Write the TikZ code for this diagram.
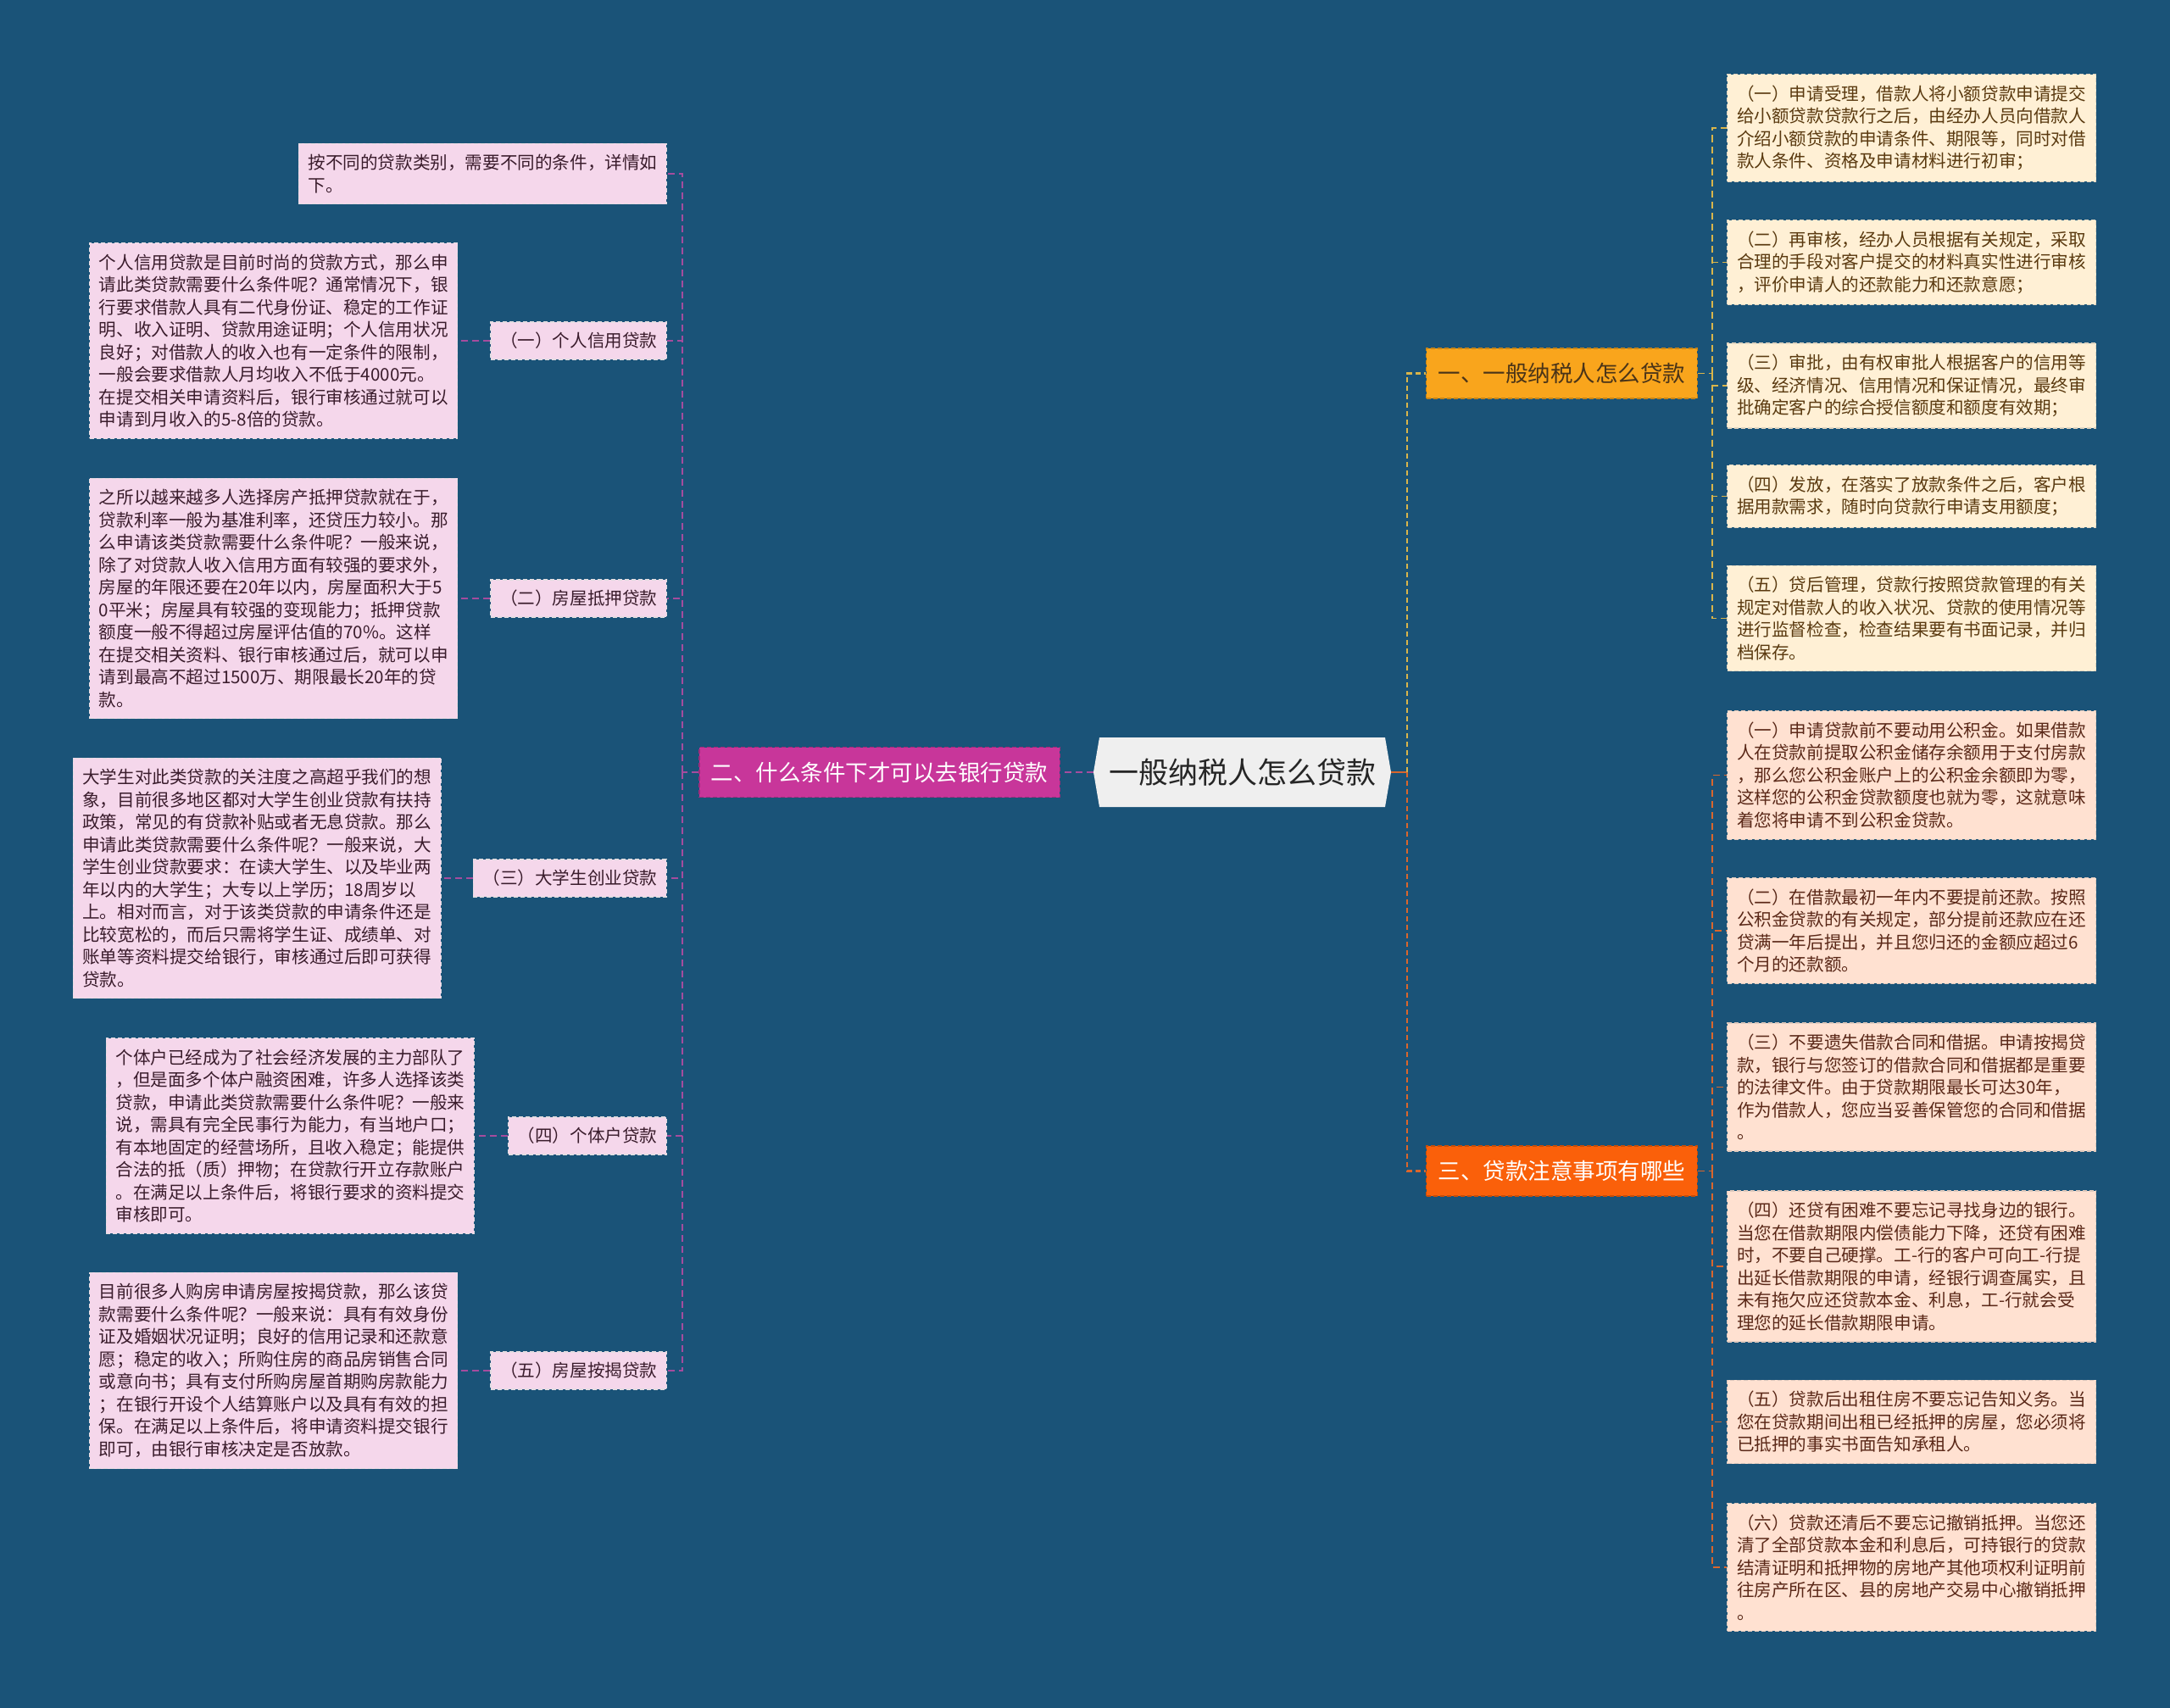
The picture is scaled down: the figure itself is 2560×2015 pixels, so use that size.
\documentclass[tikz,border=0pt]{standalone}
\usepackage{fontspec}
\setmainfont{Noto Sans CJK SC}
\usetikzlibrary{positioning}
\definecolor{bgc}{HTML}{1A5378}
\definecolor{pinkfill}{HTML}{F5D7EB}
\definecolor{pinktext}{HTML}{3A1C2C}
\definecolor{creamfill}{HTML}{FFF0D5}
\definecolor{creamtext}{HTML}{5A3A10}
\definecolor{peachfill}{HTML}{FFE1D1}
\definecolor{peachtext}{HTML}{5A2818}
\definecolor{magfill}{HTML}{C8369A}
\definecolor{ambfill}{HTML}{F9A51C}
\definecolor{ambtext}{HTML}{4A3418}
\definecolor{redfill}{HTML}{FA600A}
\definecolor{rootfill}{HTML}{EFEFEF}
\definecolor{magline}{HTML}{A54C9E}
\definecolor{ylwline}{HTML}{D9B54A}
\definecolor{orgline}{HTML}{DA662C}
\newcommand\leaffont{\fontsize{20.6pt}{26.5pt}\selectfont}
\newcommand\branchfont{\fontsize{26.5pt}{32pt}\selectfont}
\newcommand\rootfont{\fontsize{35pt}{40pt}\selectfont}
\tikzset{
  leafbase/.style={font=\leaffont, align=left, inner xsep=11pt, inner ysep=13pt,
    dashed, line width=1.2pt, dash pattern=on 5pt off 3pt},
  pinkbox/.style={leafbase, fill=pinkfill, text=pinktext, draw=white!75!pinkfill!80!gray, minimum width=433pt, anchor=east},
  pinklabel/.style={leafbase, fill=pinkfill, text=pinktext, draw=white!75!pinkfill!80!gray, inner ysep=10pt, minimum height=44pt, anchor=east},
  creambox/.style={leafbase, fill=creamfill, text=creamtext, draw=creamfill!75!gray, minimum width=435pt, anchor=west},
  peachbox/.style={leafbase, fill=peachfill, text=peachtext, draw=peachfill!75!gray, minimum width=435pt, anchor=west},
  branchbox/.style={font=\branchfont, inner xsep=14pt, minimum height=59pt, dashed, line width=1.2pt, dash pattern=on 5pt off 3pt},
  magline/.style={draw=magline, line width=1.6pt, dash pattern=on 8pt off 5pt},
  ylwline/.style={draw=ylwline, line width=2.2pt, dash pattern=on 6pt off 4pt},
  orgline/.style={draw=orgline, line width=2.2pt, dash pattern=on 6pt off 4pt},
  ylwthin/.style={draw=ylwline, line width=1.6pt, dash pattern=on 8pt off 5pt},
  orgthin/.style={draw=orgline, line width=1.6pt, dash pattern=on 8pt off 5pt},
}
\begin{document}
\begin{tikzpicture}[x=1pt,y=-1pt]
\fill[bgc] (0,0) rectangle (2560,2015);
\useasboundingbox (0,0) rectangle (2560,2015);

% root
\fill[rootfill] (1297,870) -- (1634,870) -- (1641,911) -- (1634,952) -- (1297,952) -- (1290,911) -- cycle;
\node[font=\rootfont, text=black!85, minimum width=351pt, minimum height=82pt, inner sep=0pt] (root) at (1465.5,911) {一般纳税人怎么贷款};

% branches
\node[branchbox, fill=magfill, draw=magfill!80!black, text=white, anchor=east] (b2) at (1251,911) {二、什么条件下才可以去银行贷款};
\node[branchbox, fill=ambfill, draw=ambfill!80!black, text=ambtext, anchor=west] (b1) at (1682,440.5) {一、一般纳税人怎么贷款};
\node[branchbox, fill=redfill, draw=redfill!80!black, text=white, anchor=west] (b3) at (1682,1381.5) {三、贷款注意事项有哪些};

% left side
\node[pinkbox, minimum width=434pt] (intro) at (787,205) {按不同的贷款类别，需要不同的条件，详情如\\下。};

\node[pinklabel] (l1) at (787,402) {（一）个人信用贷款};
\node[pinkbox, left=38pt of l1] (t1) {个人信用贷款是目前时尚的贷款方式，那么申\\请此类贷款需要什么条件呢？通常情况下，银\\行要求借款人具有二代身份证、稳定的工作证\\明、收入证明、贷款用途证明；个人信用状况\\良好；对借款人的收入也有一定条件的限制，\\一般会要求借款人月均收入不低于4000元。\\在提交相关申请资料后，银行审核通过就可以\\申请到月收入的5-8倍的贷款。};

\node[pinklabel] (l2) at (787,706) {（二）房屋抵押贷款};
\node[pinkbox, left=38pt of l2] (t2) {之所以越来越多人选择房产抵押贷款就在于，\\贷款利率一般为基准利率，还贷压力较小。那\\么申请该类贷款需要什么条件呢？一般来说，\\除了对贷款人收入信用方面有较强的要求外，\\房屋的年限还要在20年以内，房屋面积大于5\\0平米；房屋具有较强的变现能力；抵押贷款\\额度一般不得超过房屋评估值的70\%。这样\\在提交相关资料、银行审核通过后，就可以申\\请到最高不超过1500万、期限最长20年的贷\\款。};

\node[pinklabel] (l3) at (787,1036) {（三）大学生创业贷款};
\node[pinkbox, left=37pt of l3] (t3) {大学生对此类贷款的关注度之高超乎我们的想\\象，目前很多地区都对大学生创业贷款有扶持\\政策，常见的有贷款补贴或者无息贷款。那么\\申请此类贷款需要什么条件呢？一般来说，大\\学生创业贷款要求：在读大学生、以及毕业两\\年以内的大学生；大专以上学历；18周岁以\\上。相对而言，对于该类贷款的申请条件还是\\比较宽松的，而后只需将学生证、成绩单、对\\账单等资料提交给银行，审核通过后即可获得\\贷款。};

\node[pinklabel] (l4) at (787,1340) {（四）个体户贷款};
\node[pinkbox, left=39pt of l4] (t4) {个体户已经成为了社会经济发展的主力部队了\\，但是面多个体户融资困难，许多人选择该类\\贷款，申请此类贷款需要什么条件呢？一般来\\说，需具有完全民事行为能力，有当地户口；\\有本地固定的经营场所，且收入稳定；能提供\\合法的抵（质）押物；在贷款行开立存款账户\\。在满足以上条件后，将银行要求的资料提交\\审核即可。};

\node[pinklabel] (l5) at (787,1617) {（五）房屋按揭贷款};
\node[pinkbox, left=38pt of l5] (t5) {目前很多人购房申请房屋按揭贷款，那么该贷\\款需要什么条件呢？一般来说：具有有效身份\\证及婚姻状况证明；良好的信用记录和还款意\\愿；稳定的收入；所购住房的商品房销售合同\\或意向书；具有支付所购房屋首期购房款能力\\；在银行开设个人结算账户以及具有有效的担\\保。在满足以上条件后，将申请资料提交银行\\即可，由银行审核决定是否放款。};

% right side, branch one
\node[creambox] (r1) at (2037,151) {（一）申请受理，借款人将小额贷款申请提交\\给小额贷款贷款行之后，由经办人员向借款人\\介绍小额贷款的申请条件、期限等，同时对借\\款人条件、资格及申请材料进行初审；};
\node[creambox] (r2) at (2037,309.5) {（二）再审核，经办人员根据有关规定，采取\\合理的手段对客户提交的材料真实性进行审核\\，评价申请人的还款能力和还款意愿；};
\node[creambox] (r3) at (2037,455) {（三）审批，由有权审批人根据客户的信用等\\级、经济情况、信用情况和保证情况，最终审\\批确定客户的综合授信额度和额度有效期；};
\node[creambox] (r4) at (2037,585.5) {（四）发放，在落实了放款条件之后，客户根\\据用款需求，随时向贷款行申请支用额度；};
\node[creambox] (r5) at (2037,729.5) {（五）贷后管理，贷款行按照贷款管理的有关\\规定对借款人的收入状况、贷款的使用情况等\\进行监督检查，检查结果要有书面记录，并归\\档保存。};

% right side, branch three
\node[peachbox] (s1) at (2037,914.5) {（一）申请贷款前不要动用公积金。如果借款\\人在贷款前提取公积金储存余额用于支付房款\\，那么您公积金账户上的公积金余额即为零，\\这样您的公积金贷款额度也就为零，这就意味\\着您将申请不到公积金贷款。};
\node[peachbox] (s2) at (2037,1098) {（二）在借款最初一年内不要提前还款。按照\\公积金贷款的有关规定，部分提前还款应在还\\贷满一年后提出，并且您归还的金额应超过6\\个月的还款额。};
\node[peachbox] (s3) at (2037,1282.5) {（三）不要遗失借款合同和借据。申请按揭贷\\款，银行与您签订的借款合同和借据都是重要\\的法律文件。由于贷款期限最长可达30年，\\作为借款人，您应当妥善保管您的合同和借据\\。};
\node[peachbox] (s4) at (2037,1494) {（四）还贷有困难不要忘记寻找身边的银行。\\当您在借款期限内偿债能力下降，还贷有困难\\时，不要自己硬撑。工-行的客户可向工-行提\\出延长借款期限的申请，经银行调查属实，且\\未有拖欠应还贷款本金、利息，工-行就会受\\理您的延长借款期限申请。};
\node[peachbox] (s5) at (2037,1677.5) {（五）贷款后出租住房不要忘记告知义务。当\\您在贷款期间出租已经抵押的房屋，您必须将\\已抵押的事实书面告知承租人。};
\node[peachbox] (s6) at (2037,1849) {（六）贷款还清后不要忘记撤销抵押。当您还\\清了全部贷款本金和利息后，可持银行的贷款\\结清证明和抵押物的房地产其他项权利证明前\\往房产所在区、县的房地产交易中心撤销抵押\\。};

% connectors: root to branches
\coordinate (rj) at (1660,911);
\draw[draw=orgline, line width=2.4pt] (root.east) -- (rj);
\draw[ylwline] (rj) |- (b1.west);
\draw[orgline] (rj) |- (b3.west);
\draw[magline, line width=2.4pt] (root.west) -- (b2.east);

% left connectors
\coordinate (lj) at (805,911);
\draw[magline] (b2.west) -- (lj);
\foreach \n in {intro,l1,l2,l3,l4,l5} \draw[magline] (lj) |- (\n.east);
\foreach \n in {1,2,3,4,5} \draw[magline] (l\n.west) -- (t\n.east);

% right connectors
\coordinate (r1j) at (2020,440.5);
\draw[ylwthin] (b1.east) -- (r1j);
\foreach \n in {r1,r2,r3,r4,r5} \draw[ylwthin] (r1j) |- (\n.west);
\coordinate (r3j) at (2020,1381.5);
\draw[orgthin] (b3.east) -- (r3j);
\foreach \n in {s1,s2,s3,s4,s5,s6} \draw[orgthin] (r3j) |- (\n.west);
\end{tikzpicture}
\end{document}
